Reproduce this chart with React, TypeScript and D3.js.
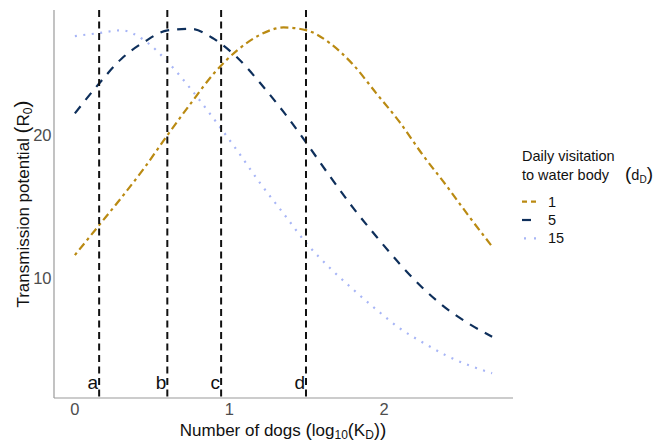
import React from "react";
import * as d3 from "d3";

// log10(K_D) grid shared by all three curves
const logK = [0, 0.15, 0.3, 0.45, 0.6, 0.75, 0.9, 1.05, 1.2, 1.35, 1.5, 1.65, 1.8, 1.95, 2.1, 2.25, 2.4, 2.55, 2.699];

// R0 for each daily visitation rate
const r0_d1 = [11.6, 13.6, 15.6, 17.7, 20.0, 22.2, 24.3, 25.9, 27.0, 27.5, 27.3, 26.4, 24.9, 22.9, 20.9, 18.6, 16.5, 14.3, 12.2];
const r0_d5 = [21.5, 23.5, 25.3, 26.5, 27.3, 27.4, 26.7, 25.4, 23.6, 21.6, 19.4, 17.1, 14.9, 12.9, 11.0, 9.3, 7.9, 6.8, 5.9];
const r0_d15 = [26.9, 27.1, 27.3, 26.6, 25.1, 23.2, 21.1, 18.9, 16.6, 14.5, 12.4, 10.7, 9.2, 7.8, 6.5, 5.5, 4.6, 3.9, 3.35];

const seriesNames = ["1", "5", "15"];
const seriesColors = ["#BA8A12", "#0E2F5B", "#A7B5F6"];
const seriesDash = ["3,4,8,4", "9,8", "2,6.5"];

const markerX = [0.157, 0.598, 0.946, 1.495];
const markerLabels = ["a", "b", "c", "d"];

const xTicks = [0, 1, 2];
const yTicks = [10, 20];

const W = 655;
const H = 442;
const font = "'Liberation Sans', Arial, sans-serif";

export default function App() {
  const x = d3.scaleLinear().domain([-0.135, 2.834]).range([54, 513]);
  const y = d3.scaleLinear().domain([1.62, 28.72]).range([398, 10]);

  const series = [r0_d1, r0_d5, r0_d15];
  const line = d3
    .line<number>()
    .x((_, i) => x(logK[i]))
    .y((d) => y(d))
    .curve(d3.curveMonotoneX);

  const [x0, x1] = x.range();
  const [y0, y1] = y.range();

  return (
    <svg
      width={W}
      height={H}
      style={{ position: "absolute", left: 0, top: 0, background: "#fff" }}
      fontFamily={font}
    >
      {/* axis lines */}
      <line x1={x0} x2={x1} y1={y0} y2={y0} stroke="#9a9a9a" strokeWidth={1.2} />
      <line x1={x0} x2={x0} y1={y0} y2={y1} stroke="#9a9a9a" strokeWidth={1.2} />

      {xTicks.map((t) => (
        <text key={t} x={x(t)} y={415} textAnchor="middle" fontSize={16.5} fill="#4d4d4d">
          {t}
        </text>
      ))}
      {yTicks.map((t) => (
        <text key={t} x={51.5} y={y(t) + 6} textAnchor="end" fontSize={16.5} fill="#4d4d4d">
          {t}
        </text>
      ))}

      {series.map((s, i) => (
        <path
          key={i}
          d={line(s) || ""}
          fill="none"
          stroke={seriesColors[i]}
          strokeWidth={2.2}
          strokeDasharray={seriesDash[i]}
        />
      ))}

      {markerX.map((m, i) => (
        <g key={i}>
          <line
            x1={x(m)}
            x2={x(m)}
            y1={y1}
            y2={y0}
            stroke="#111"
            strokeWidth={2}
            strokeDasharray="7,4.5"
          />
          <text x={x(m) - 1} y={388.5} textAnchor="end" fontSize={19} fill="#111">
            {markerLabels[i]}
          </text>
        </g>
      ))}

      {/* y title */}
      <text transform="translate(28.5,204) rotate(-90)" textAnchor="middle" fontSize={17} fill="#111">
        Transmission potential <tspan fontSize={21}>(</tspan>
        <tspan>R</tspan>
        <tspan fontSize={12} dy={3}>0</tspan>
        <tspan fontSize={21} dy={-3}>)</tspan>
      </text>

      {/* x title */}
      <text x={283} y={436} textAnchor="middle" fontSize={17} fill="#111">
        Number of dogs <tspan fontSize={19}>(</tspan>
        <tspan>log</tspan>
        <tspan fontSize={12} dy={3}>10</tspan>
        <tspan fontSize={18} dy={-3}>(</tspan>
        <tspan>K</tspan>
        <tspan fontSize={12} dy={3}>D</tspan>
        <tspan fontSize={18} dy={-3}>)</tspan>
        <tspan fontSize={19}>)</tspan>
      </text>

      {/* legend */}
      <text x={522} y={161} fontSize={14.5} fill="#111">Daily visitation</text>
      <text x={522} y={180} fontSize={14.5} fill="#111">
        to water body
        <tspan x={625} fontSize={19}>(</tspan>
        <tspan>d</tspan>
        <tspan fontSize={10} dy={3}>D</tspan>
        <tspan fontSize={19} dy={-3}>)</tspan>
      </text>
      {seriesNames.map((n, i) => {
        const cy = 201.7 + i * 18.3;
        return (
          <g key={n}>
            <line
              x1={522}
              x2={538}
              y1={cy}
              y2={cy}
              stroke={seriesColors[i]}
              strokeWidth={2.2}
              strokeDasharray={i === 0 ? "5,4" : i === 1 ? "9,8" : "2,8"}
              strokeDashoffset={i === 2 ? -2 : 0}
            />
            <text x={548} y={cy + 5} fontSize={14.5} fill="#111">
              {n}
            </text>
          </g>
        );
      })}
    </svg>
  );
}
